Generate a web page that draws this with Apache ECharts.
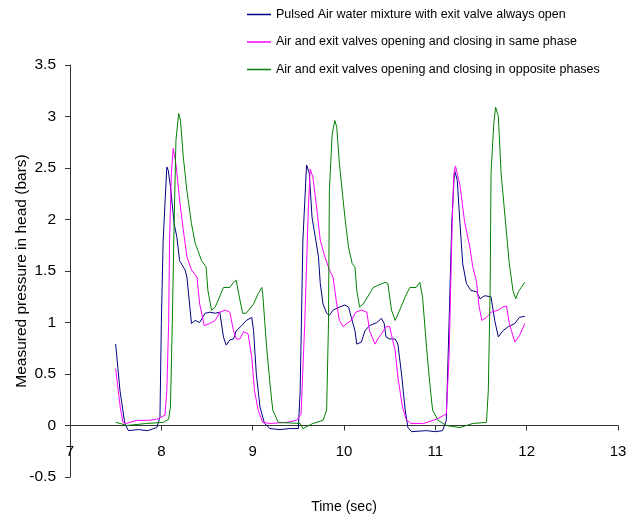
<!DOCTYPE html>
<html>
<head>
<meta charset="utf-8">
<script src="https://cdn.jsdelivr.net/npm/echarts@6/dist/echarts.min.js"></script>
<style>
  html, body { margin: 0; padding: 0; background: #fff; }
  #chart { width: 633px; height: 519px; }
</style>
</head>
<body>
<div id="chart"></div>
<script>
// series names (legend)
const seriesNames = [
  'Pulsed Air water mixture with exit valve always open',
  'Air and exit valves opening and closing in same phase',
  'Air and exit valves opening and closing in opposite phases'
]

// [time (sec), pressure (bars)]
const exitOpen = [
  [7.5, 0.79], [7.547, 0.34], [7.60, 0.02], [7.64, -0.05], [7.75, -0.04], [7.85, -0.05], [7.95, -0.02],
  [7.985, 0.08], [8.0, 0.99], [8.02, 1.80], [8.06, 2.51], [8.075, 2.48], [8.10, 2.32], [8.14, 1.96],
  [8.17, 1.83], [8.20, 1.60], [8.26, 1.51], [8.28, 1.44], [8.33, 0.99], [8.37, 1.02], [8.42, 1.00],
  [8.48, 1.09], [8.53, 1.10], [8.59, 1.09], [8.64, 1.10], [8.68, 0.86], [8.71, 0.78], [8.75, 0.83],
  [8.79, 0.84], [8.82, 0.92], [8.88, 0.97], [8.93, 1.02], [8.99, 1.05], [9.01, 0.92], [9.04, 0.50],
  [9.08, 0.18], [9.13, 0.02], [9.19, -0.03], [9.30, -0.04], [9.40, -0.03], [9.50, -0.03],
  [9.52, 0.34], [9.55, 1.80], [9.59, 2.53], [9.62, 2.45], [9.65, 2.02], [9.68, 1.86], [9.72, 1.64],
  [9.74, 1.38], [9.77, 1.18], [9.81, 1.09], [9.84, 1.07], [9.88, 1.12], [9.95, 1.15], [10.01, 1.17],
  [10.05, 1.15], [10.08, 1.05], [10.12, 0.92], [10.14, 0.79], [10.19, 0.81], [10.23, 0.92],
  [10.28, 0.97], [10.36, 1.00], [10.41, 1.04], [10.44, 0.99], [10.46, 0.86], [10.50, 0.84],
  [10.56, 0.84], [10.59, 0.79], [10.63, 0.50], [10.67, 0.15], [10.70, -0.02], [10.74, -0.06],
  [10.90, -0.05], [11.0, -0.06], [11.08, -0.05], [11.12, 0.05], [11.15, 0.99], [11.18, 1.96],
  [11.21, 2.48], [11.24, 2.38], [11.27, 1.96], [11.30, 1.57], [11.34, 1.38], [11.39, 1.31],
  [11.45, 1.30], [11.49, 1.23], [11.54, 1.26], [11.61, 1.25], [11.65, 1.02], [11.69, 0.86],
  [11.74, 0.92], [11.80, 0.96], [11.87, 0.99], [11.92, 1.05], [11.98, 1.06]
]

const samePhase = [
  [7.5, 0.55], [7.52, 0.40], [7.55, 0.18], [7.58, 0.03], [7.62, 0.02], [7.73, 0.05], [7.85, 0.05],
  [7.95, 0.06], [8.04, 0.10], [8.06, 0.34], [8.08, 0.99], [8.09, 1.80], [8.11, 2.45], [8.13, 2.69],
  [8.16, 2.54], [8.20, 2.19], [8.24, 1.90], [8.28, 1.64], [8.33, 1.51], [8.39, 1.44], [8.42, 1.18],
  [8.47, 0.97], [8.53, 0.99], [8.59, 1.02], [8.64, 1.10], [8.70, 1.12], [8.75, 1.10], [8.79, 0.92],
  [8.82, 0.84], [8.86, 0.84], [8.90, 0.91], [8.95, 0.89], [8.99, 0.66], [9.02, 0.34], [9.06, 0.15],
  [9.11, 0.03], [9.19, 0.02], [9.37, 0.03], [9.48, 0.05], [9.53, 0.11], [9.57, 0.99], [9.61, 2.12],
  [9.63, 2.49], [9.66, 2.41], [9.70, 2.12], [9.74, 1.80], [9.79, 1.64], [9.84, 1.51], [9.88, 1.44],
  [9.92, 1.18], [9.95, 1.02], [9.99, 0.96], [10.03, 0.99], [10.08, 1.02], [10.13, 1.10],
  [10.19, 1.12], [10.25, 1.10], [10.28, 0.92], [10.34, 0.79], [10.37, 0.84], [10.41, 0.89],
  [10.46, 0.96], [10.50, 0.96], [10.53, 0.84], [10.56, 0.73], [10.59, 0.47], [10.64, 0.18],
  [10.68, 0.06], [10.73, 0.02], [10.87, 0.02], [11.01, 0.06], [11.12, 0.11], [11.15, 0.66],
  [11.18, 1.80], [11.20, 2.41], [11.22, 2.52], [11.27, 2.33], [11.32, 1.98], [11.38, 1.72],
  [11.41, 1.54], [11.45, 1.40], [11.48, 1.15], [11.51, 1.02], [11.56, 1.05], [11.61, 1.10],
  [11.69, 1.12], [11.74, 1.15], [11.78, 1.16], [11.81, 0.99], [11.87, 0.81], [11.92, 0.87],
  [11.98, 0.99]
]

const oppositePhase = [
  [7.5, 0.03], [7.55, 0.02], [7.62, 0.0], [7.84, 0.02], [8.02, 0.03], [8.08, 0.06], [8.10, 0.18],
  [8.12, 0.99], [8.14, 1.96], [8.16, 2.77], [8.19, 3.03], [8.21, 2.96], [8.24, 2.61], [8.28, 2.28],
  [8.33, 1.96], [8.37, 1.77], [8.40, 1.70], [8.44, 1.60], [8.49, 1.54], [8.51, 1.31], [8.55, 1.12],
  [8.59, 1.15], [8.62, 1.21], [8.68, 1.34], [8.75, 1.34], [8.79, 1.39], [8.82, 1.41], [8.84, 1.31],
  [8.89, 1.09], [8.93, 1.09], [9.01, 1.18], [9.06, 1.28], [9.10, 1.34], [9.11, 1.28], [9.15, 0.79],
  [9.19, 0.40], [9.22, 0.15], [9.28, 0.03], [9.52, 0.02], [9.55, -0.03], [9.66, 0.02], [9.77, 0.05],
  [9.81, 0.15], [9.83, 0.99], [9.84, 2.28], [9.87, 2.83], [9.90, 2.96], [9.92, 2.90], [9.95, 2.54],
  [10.01, 2.02], [10.05, 1.73], [10.09, 1.57], [10.12, 1.54], [10.14, 1.31], [10.17, 1.15],
  [10.21, 1.18], [10.26, 1.25], [10.32, 1.34], [10.37, 1.36], [10.45, 1.39], [10.48, 1.38],
  [10.52, 1.12], [10.56, 1.02], [10.61, 1.12], [10.67, 1.25], [10.72, 1.34], [10.79, 1.34],
  [10.83, 1.39], [10.86, 1.25], [10.90, 0.80], [10.94, 0.40], [10.97, 0.15], [11.03, 0.05],
  [11.12, 0.0], [11.27, -0.02], [11.29, -0.03], [11.41, 0.02], [11.56, 0.03], [11.58, 0.34],
  [11.60, 1.31], [11.61, 2.45], [11.64, 2.93], [11.66, 3.09], [11.69, 3.00], [11.72, 2.45],
  [11.77, 1.96], [11.81, 1.57], [11.85, 1.31], [11.88, 1.23], [11.91, 1.30], [11.94, 1.34],
  [11.98, 1.39]
]

const colors = ['#000080', '#ff00ff', '#008000']
const seriesData = [exitOpen, samePhase, oppositePhase]

const chart = echarts.init(document.getElementById('chart'), null, { renderer: 'canvas' })

const axisLine = { lineStyle: { color: '#333', width: 1 } }
const fontFamily = '"Liberation Sans", Arial, sans-serif'

const option = {
  animation: false,
  textStyle: { fontFamily },
  legend: {
    orient: 'vertical',
    left: 242,
    top: 3,
    icon: 'rect',
    itemWidth: 24,
    itemHeight: 1.5,
    itemGap: 14.5,
    textStyle: { color: '#000', fontSize: 12.5, fontFamily },
    data: seriesNames
  },
  grid: { left: 70, right: 15, top: 65, bottom: 42, outerBoundsMode: 'none' },
  xAxis: {
    type: 'value',
    min: 7,
    max: 13,
    interval: 1,
    name: 'Time (sec)',
    nameLocation: 'middle',
    nameGap: 23,
    nameMoveOverlap: false,
    nameTextStyle: { color: '#000', fontSize: 14, fontFamily },
    axisLine: { onZero: true, ...axisLine },
    axisTick: { show: true, length: 5, lineStyle: { color: '#333' } },
    // labels sit just under the zero line, not at the grid bottom
    axisLabel: { color: '#000', fontSize: 15, margin: -33, fontFamily },
    splitLine: { show: false }
  },
  yAxis: {
    type: 'value',
    min: -0.5,
    max: 3.5,
    interval: 0.5,
    name: 'Measured pressure in head (bars)',
    nameLocation: 'middle',
    nameGap: 40,
    nameMoveOverlap: false,
    nameTextStyle: { color: '#000', fontSize: 15.5, fontFamily },
    axisLine: { show: true, ...axisLine },
    axisTick: { show: true, length: 5, lineStyle: { color: '#333' } },
    axisLabel: { color: '#000', fontSize: 15.5, margin: 14, fontFamily },
    splitLine: { show: false }
  },
  series: seriesData.map((data, i) => ({
    name: seriesNames[i],
    type: 'line',
    data,
    showSymbol: false,
    symbol: 'none',
    lineStyle: { color: colors[i], width: 1 },
    itemStyle: { color: colors[i] }
  }))
}

chart.setOption(option)
</script>
</body>
</html>
